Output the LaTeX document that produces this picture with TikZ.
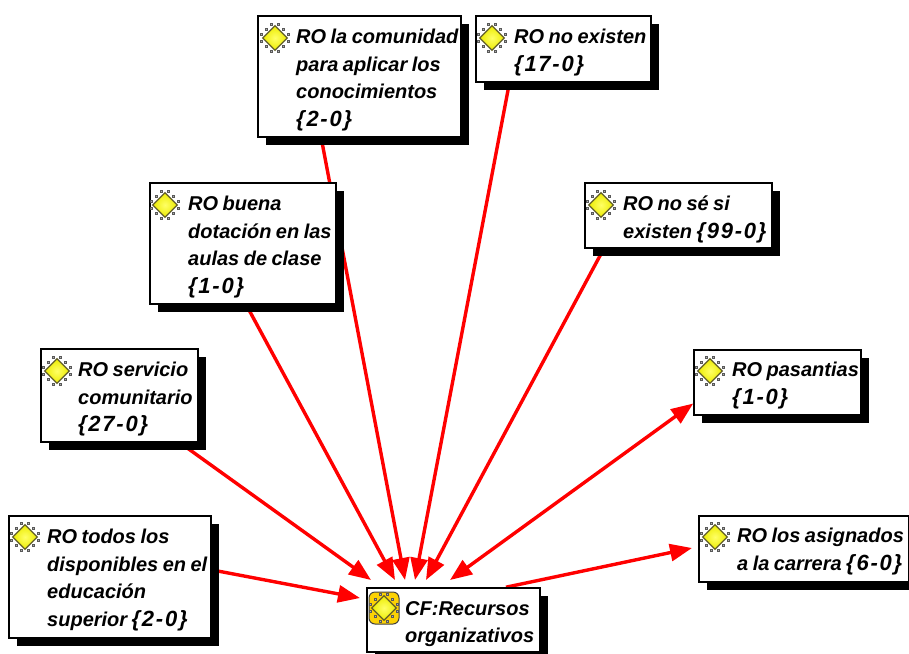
\documentclass[tikz,border=0pt]{standalone}
\usepackage{fontspec}
\setmainfont{Liberation Sans}[WordSpace=0.8]
\usetikzlibrary{arrows.meta,shapes.geometric,shadows,backgrounds}
\newcommand{\rocount}[1]{{\fontsize{22}{27.5}\selectfont\addfontfeature{LetterSpace=8}\{#1\}}}

\tikzset{
    romark/.pic = {
        \foreach \a in {45,135,225,315} {
            \foreach \d in {-7,0,7} {
                \filldraw[rotate=\a, draw=black!65, fill=white!70!black, line width=1.1pt] (12,\d) circle (1.9);
            }
        }
        \node[diamond, draw=olive!60!black, line width=1.2pt, inner color=white!40!yellow, outer color=yellow!85!olive, minimum size=25pt, inner sep=0pt] {};
    },
    cfmark/.pic = {
        \fill[rounded corners=6pt, fill=yellow!70!orange, draw=black!75, line width=1pt] (-15,-16) rectangle (15,16);
        \pic {romark};
    }
}

\begin{document}
\begin{tikzpicture}[x=1pt, y=-1pt,
    ro/.style = {draw, line width=1.6pt, fill=white, inner sep=0pt,
        drop shadow={opacity=1, fill=black, shadow xshift=8pt, shadow yshift=-8pt}},
    rotext/.style = {anchor=north west, align=left, inner sep=0pt,
        font=\fontsize{20}{27.5}\selectfont\bfseries\itshape},
    link/.style = {draw=red, line width=3.4pt, -{Triangle[length=22pt, width=17pt]}},
    linkboth/.style = {link, {Triangle[length=22pt, width=17pt]}-{Triangle[length=22pt, width=17pt]}}]
    \clip (0,0) rectangle (909,653);

    \node[ro, minimum width=203pt, minimum height=121pt] (comunidad) at (359.5,76.5) {};
    \node[ro, minimum width=175pt, minimum height=66pt] (noexisten) at (563.5,49) {};
    \node[ro, minimum width=186pt, minimum height=121pt] (dotacion) at (243,243.5) {};
    \node[ro, minimum width=187pt, minimum height=65pt] (nose) at (678.5,215.5) {};
    \node[ro, minimum width=157pt, minimum height=93pt] (servicio) at (119.5,395.5) {};
    \node[ro, minimum width=167pt, minimum height=65pt] (pasantias) at (777.5,382.5) {};
    \node[ro, minimum width=202pt, minimum height=122pt] (todos) at (110,577) {};
    \node[ro, minimum width=210pt, minimum height=66pt] (asignados) at (804,549) {};
    \node[ro, minimum width=173pt, minimum height=64pt] (recursos) at (453.5,620) {};

    \node[rotext] (tcomunidad) at (296,29) {RO la comunidad\\para aplicar los\\conocimientos\\\rocount{2-0}};
    \node[rotext] (tnoexisten) at (514,29) {RO no existen\\\rocount{17-0}};
    \node[rotext] (tdotacion) at (188,196) {RO buena\\dotación en las\\aulas de clase\\\rocount{1-0}};
    \node[rotext] (tnose) at (623,196) {RO no sé si\\existen \rocount{99-0}};
    \node[rotext] (tservicio) at (78,362) {RO servicio\\comunitario\\\rocount{27-0}};
    \node[rotext] (tpasantias) at (732,362) {RO pasantias\\\rocount{1-0}};
    \node[rotext] (ttodos) at (47,529) {RO todos los\\disponibles en el\\educación\\superior \rocount{2-0}};
    \node[rotext] (tasignados) at (737,528) {RO los asignados\\a la carrera \rocount{6-0}};
    \node[rotext] (trecursos) at (405,601) {CF:Recursos\\organizativos};

    \pic at (275,38) {romark};
    \pic at (492,38) {romark};
    \pic at (165,205) {romark};
    \pic at (601,205) {romark};
    \pic at (57,371) {romark};
    \pic at (710,371) {romark};
    \pic at (25,537) {romark};
    \pic at (715,537) {romark};
    \pic at (384,608) {cfmark};

    \coordinate (tipdotacion) at (395,580);
    \coordinate (tipcomunidad) at (405,580);
    \coordinate (tipnoexisten) at (415,580);
    \coordinate (tipnose) at (426,580);
    \coordinate (tippasantias) at (450,580);
    \coordinate (tipservicio) at (371,580);
    \coordinate (tiptodos) at (360,598);
    \coordinate (tipasignados) at (692,548);

    \begin{scope}[on background layer]
        \draw[link] (comunidad.238) -- (tipcomunidad);
        \draw[link] (noexisten.212.4) -- (tipnoexisten);
        \draw[link] (dotacion.273) -- (tipdotacion);
        \draw[link] (nose.204) -- (tipnose);
        \draw[link] (servicio.322) -- (tipservicio);
        \draw[link] (todos.4) -- (tiptodos);
        \draw[linkboth] (pasantias.194) -- (tippasantias);
        \draw[link] (recursos.32) -- (tipasignados);
    \end{scope}
\end{tikzpicture}
\end{document}
